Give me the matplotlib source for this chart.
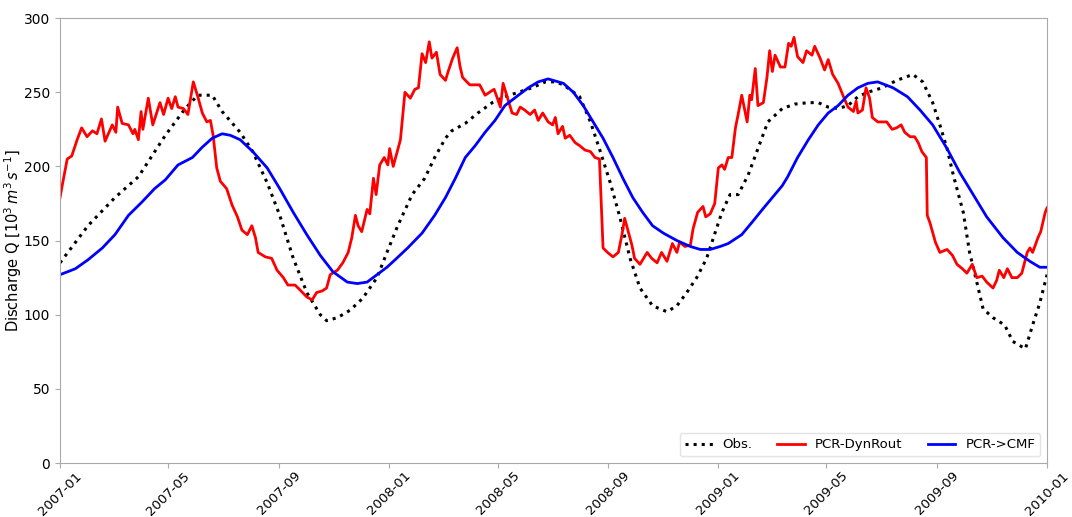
import numpy as np
import pandas as pd
import matplotlib
matplotlib.use("Agg")
import matplotlib.pyplot as plt

start = pd.Timestamp("2007-01-01")

# Observed discharge: (days since 2007-01-01, value)
obs_days = [0, 31, 61, 87, 117, 139, 153, 169, 180, 200, 214, 230, 244, 259, 274, 289, 296, 308, 322, 336,
            352, 363, 375, 391, 405, 416, 428, 435, 450, 464, 480, 494, 509, 524, 539, 550, 559, 577, 589,
            600, 611, 622, 633, 644, 658, 674, 685, 696, 707, 718, 730, 735, 744, 753, 764, 775, 786, 802,
            816, 831, 842, 853, 864, 875, 886, 897, 913, 929, 947, 958, 969, 977, 985, 992, 1003, 1010,
            1018, 1025, 1036, 1049, 1058, 1072, 1080, 1088, 1096]
obs_vals = [135, 160, 179, 193, 221, 239, 248, 248, 237, 223, 210, 189, 167, 138, 115, 100, 96, 98, 103, 111,
            125, 142, 160, 181, 192, 206, 219, 224, 229, 236, 243, 247, 250, 253, 257, 257, 255, 247, 230,
            210, 189, 165, 138, 118, 106, 102, 106, 115, 125, 138, 160, 169, 181, 181, 194, 212, 230, 239,
            242, 243, 243, 240, 239, 241, 247, 250, 253, 258, 262, 257, 243, 228, 212, 194, 169, 142,
            122, 104, 98, 93, 82, 77, 93, 108, 127]

# PCR-DynRout
dyn_days = [0, 3, 8, 13, 19, 24, 30, 36, 41, 46, 50, 58, 62, 64, 69, 76, 81, 83, 87, 90, 92, 98, 103, 111,
            115, 120, 124, 128, 131, 137, 142, 148, 153, 158, 163, 167, 170, 174, 178, 185, 191, 197, 202,
            208, 213, 217, 220, 228, 235, 241, 248, 253, 261, 266, 274, 280, 285, 291, 296, 300, 308, 314,
            320, 324, 328, 331, 335, 341, 344, 348, 351, 355, 360, 364, 366, 370, 378, 383, 389, 394, 398,
            402, 406, 410, 413, 418, 422, 428, 431, 436, 441, 444, 447, 455, 466, 472, 477, 482, 485, 489,
            492, 496, 502, 507, 511, 516, 522, 527, 531, 536, 542, 547, 550, 553, 558, 561, 566, 572, 577,
            583, 589, 594, 599, 602, 603, 608, 614, 620, 624, 627, 631, 635, 638, 644, 652, 657, 663, 668,
            674, 680, 685, 688, 694, 700, 703, 708, 714, 717, 722, 727, 731, 735, 738, 742, 746, 750, 753,
            757, 763, 766, 768, 772, 775, 781, 785, 788, 791, 794, 800, 805, 809, 812, 815, 819, 825, 829,
            835, 838, 844, 849, 853, 858, 864, 870, 875, 881, 884, 886, 891, 895, 899, 902, 908, 918, 924,
            929, 934, 938, 944, 949, 953, 957, 962, 963, 966, 972, 977, 985, 991, 996, 1002, 1007, 1013,
            1018, 1024, 1029, 1036, 1040, 1043, 1048, 1052, 1057, 1063, 1068, 1074, 1077, 1080, 1086,
            1089, 1094, 1096]
dyn_vals = [179, 189, 205, 207, 218, 226, 220, 224, 222, 232, 217, 228, 223, 240, 229, 228, 222, 225, 218, 237,
            225, 246, 228, 243, 235, 246, 239, 247, 240, 239, 235, 257, 247, 236, 230, 231, 221, 199, 190,
            185, 174, 166, 157, 154, 160, 152, 142, 139, 138, 130, 125, 120, 120, 117, 112, 110, 115, 116,
            118, 127, 130, 135, 142, 152, 167, 160, 156, 171, 168, 192, 181, 201, 206, 201, 212, 200, 218,
            250, 246, 252, 253, 276, 270, 284, 273, 277, 262, 258, 264, 273, 280, 268, 260, 255, 255, 248,
            250, 252, 247, 240, 256, 248, 236, 235, 240, 238, 235, 238, 231, 236, 230, 228, 233, 222, 227,
            219, 221, 216, 214, 211, 210, 206, 205, 160, 145, 142, 139, 142, 154, 165, 156, 147, 138, 134,
            142, 138, 135, 142, 136, 148, 142, 149, 146, 147, 158, 169, 173, 166, 168, 175, 199, 201, 198,
            206, 206, 226, 235, 248, 230, 248, 245, 266, 241, 243, 260, 278, 264, 275, 267, 267, 283, 281,
            287, 274, 270, 278, 275, 281, 273, 265, 272, 262, 256, 247, 240, 237, 244, 236, 238, 253, 246,
            233, 230, 230, 225, 226, 228, 223, 220, 220, 216, 210, 206, 167, 162, 149, 142, 144, 140, 134,
            131, 128, 134, 125, 126, 122, 118, 123, 130, 125, 131, 125, 125, 128, 142, 145, 142, 152, 156,
            169, 172]

# PCR->CMF
cmf_days = [0, 17, 31, 47, 61, 76, 91, 105, 117, 131, 147, 158, 169, 180, 189, 200, 214, 230, 244, 259, 274,
            289, 303, 319, 330, 341, 352, 363, 372, 386, 402, 416, 428, 439, 450, 461, 472, 483, 494, 509,
            520, 531, 542, 559, 570, 581, 592, 603, 614, 625, 636, 647, 658, 670, 685, 700, 711, 722, 733,
            742, 757, 768, 780, 791, 802, 808, 819, 831, 842, 853, 864, 875, 886, 897, 908, 925, 941, 955,
            969, 985, 999, 1014, 1029, 1047, 1063, 1077, 1088, 1096]
cmf_vals = [127, 131, 137, 145, 154, 167, 176, 185, 191, 201, 206, 213, 219, 222, 221, 218, 210, 199, 185, 169,
            154, 140, 129, 122, 121, 122, 127, 132, 137, 145, 155, 167, 179, 192, 206, 214, 223, 231, 241,
            248, 253, 257, 259, 256, 250, 241, 230, 219, 206, 192, 179, 169, 160, 155, 150, 146, 144, 144,
            146, 148, 154, 162, 171, 179, 187, 193, 206, 218, 228, 236, 241, 248, 253, 256, 257, 253, 247,
            238, 228, 212, 196, 181, 166, 152, 142, 136, 132, 132]

tick_labels = ["2007-01", "2007-05", "2007-09", "2008-01", "2008-05", "2008-09",
               "2009-01", "2009-05", "2009-09", "2010-01"]


def to_dates(days):
    return start + pd.to_timedelta(np.array(days), unit="D")


fig = plt.figure(figsize=(10.72, 5.17), dpi=100)
ax = fig.add_axes([0.056, 0.1044, 0.9207, 0.8606])

ax.plot(to_dates(obs_days), obs_vals, color="black", linestyle=":", linewidth=2.2, label="Obs.")
ax.plot(to_dates(dyn_days), dyn_vals, color="red", linewidth=2.0, label="PCR-DynRout")
ax.plot(to_dates(cmf_days), cmf_vals, color="blue", linewidth=2.0, label="PCR->CMF")

ax.set_xlim(pd.Timestamp("2007-01-01"), pd.Timestamp("2010-01-01"))
ax.set_ylim(0, 300)
ticks = [pd.Timestamp(t + "-01") for t in tick_labels]
ax.set_xticks(ticks)
ax.set_xticklabels(tick_labels, rotation=45, ha="center", fontsize=9.5)
ax.tick_params(axis="x", pad=1)
ax.tick_params(axis="y", labelsize=10)
ax.set_ylabel(r"Discharge Q [$10^3\,m^3\,s^{-1}$]", fontsize=10.5)
ax.yaxis.set_label_coords(-0.037, 0.5)

for sp in ax.spines.values():
    sp.set_color("#aaaaaa")
ax.tick_params(axis="both", color="#aaaaaa", labelcolor="black")

leg = ax.legend(loc="lower right", ncol=3, fontsize=9.5, frameon=True, fancybox=True,
                handlelength=2.1, columnspacing=1.9, handletextpad=0.75)
leg.get_frame().set_edgecolor("#dddddd")

fig.savefig("out.png", dpi=100)
